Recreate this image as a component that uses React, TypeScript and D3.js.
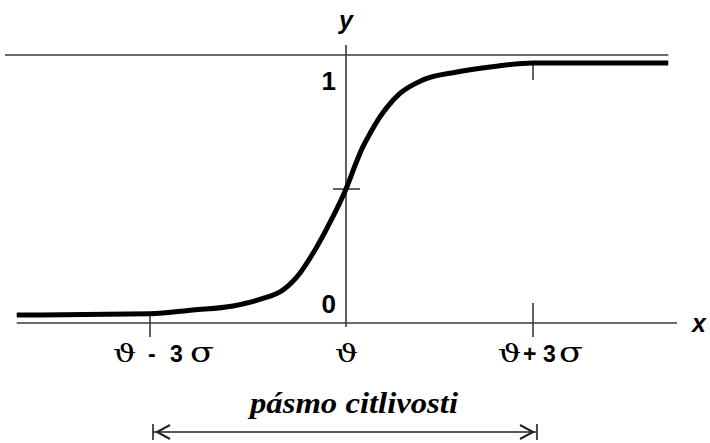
import { useMemo } from 'react'
import * as d3 from 'd3'

// sigmoid: x in sigma units around theta, y = probability
const curveX = [-5.04, -3.0, -2.34, -1.73, -1.32, -0.96, -0.7, -0.505, -0.29, 0, 0.18, 0.27, 0.385, 0.545, 0.66, 0.87, 1.235, 1.78, 2.31, 3.0, 5.17]
const curveY = [0, 0.005, 0.02, 0.036, 0.062, 0.1, 0.168, 0.245, 0.345, 0.5, 0.615, 0.667, 0.72, 0.786, 0.825, 0.88, 0.933, 0.964, 0.984, 1.0, 1.0]

const xTicks = [-3, 0, 3]
const xTickSymbols = [['ϑ', '-', '3', 'σ'], ['ϑ'], ['ϑ', '+', '3', 'σ']]
const yTicks = [0, 1]
const yTickLabels = ['0', '1']
const axisLevel = -0.032
const ceilingLevel = 1.032
const bandLabel = 'pásmo citlivosti'

const W = 710
const H = 443

// pixel offsets of the label pieces from their tick
const pieceOffsets = [[-37, -2, 20, 40], [-11], [-35, -10, 10, 26]]

export default function App() {
  const x = useMemo(() => d3.scaleLinear().domain([-3, 0, 3]).range([150, 346, 533]), [])
  const y = useMemo(() => d3.scaleLinear().domain([0, 1]).range([315, 63]), [])

  const pts = curveX.map((v, i) => [v, curveY[i]] as [number, number])
  const line = d3
    .line<[number, number]>()
    .x((d) => x(d[0]))
    .y((d) => y(d[1]))
    .curve(d3.curveMonotoneX)

  const axisY = y(axisLevel)
  const x0 = x(0)
  const stroke = '#3a3a3a'
  const sans = 'Liberation Sans, Arial, sans-serif'
  const serif = 'DejaVu Serif, Liberation Serif, serif'
  const times = 'Liberation Serif, Times New Roman, serif'

  const arrowL = x(-3) + 3
  const arrowR = x(3) + 4
  const arrowY = 432

  return (
    <svg width={W} height={H} style={{ position: 'absolute', left: 0, top: 0, background: '#fff' }}>
      {/* ceiling line */}
      <line x1={5} x2={x(5.17)} y1={y(ceilingLevel)} y2={y(ceilingLevel)} stroke={stroke} strokeWidth={1.6} />
      {/* x axis */}
      <line x1={x(-5.04)} x2={677} y1={axisY} y2={axisY} stroke={stroke} strokeWidth={1.6} />
      {/* y axis */}
      <line x1={x0} x2={x0} y1={y(1.071)} y2={axisY + 4} stroke={stroke} strokeWidth={1.6} />
      {/* mid tick */}
      <line x1={x0 - 13} x2={x0 + 14} y1={y(0.5)} y2={y(0.5)} stroke={stroke} strokeWidth={1.6} />
      {/* band ticks */}
      <line x1={x(-3)} x2={x(-3)} y1={y(0.012)} y2={axisY + 14} stroke={stroke} strokeWidth={1.6} />
      <line x1={x(3)} x2={x(3)} y1={axisY - 20} y2={axisY + 14} stroke={stroke} strokeWidth={1.6} />
      <line x1={x(3)} x2={x(3)} y1={y(1)} y2={y(1) + 17} stroke={stroke} strokeWidth={1.6} />

      <path d={line(pts) || ''} fill="none" stroke="#000" strokeWidth={5} strokeLinejoin="round" />

      {/* axis names */}
      <text x={x0} y={29} textAnchor="middle" fontFamily={sans} fontWeight="bold" fontStyle="italic" fontSize={25}>y</text>
      <text x={692} y={332} fontFamily={sans} fontWeight="bold" fontStyle="italic" fontSize={25}>x</text>

      {yTicks.map((t, i) => (
        <text key={t} x={x0 - 10} y={t === 1 ? y(1) + 27 : y(0) - 2} textAnchor="end" fontFamily={sans} fontWeight="bold" fontSize={26}>
          {yTickLabels[i]}
        </text>
      ))}

      {xTicks.map((t, i) =>
        xTickSymbols[i].map((s, j) => {
          const greek = s === 'ϑ' || s === 'σ'
          const px = x(t) + pieceOffsets[i][j]
          return (
            <text
              key={`${t}-${j}`}
              x={px}
              y={362}
              transform={greek ? `translate(${px},0) scale(1.3,1) translate(${-px},0)` : undefined}
              fontFamily={greek ? serif : sans}
              fontWeight={greek ? 'normal' : 'bold'}
              fontSize={s === 'σ' ? 27 : greek ? 25 : 23}
            >
              {s}
            </text>
          )
        })
      )}

      <text
        x={250}
        y={413}
        textLength={208}
        lengthAdjust="spacingAndGlyphs"
        fontFamily={times}
        fontWeight="bold"
        fontStyle="italic"
        fontSize={30}
      >
        {bandLabel}
      </text>

      {/* sensitivity band arrow */}
      <g stroke="#222" strokeWidth={1.6} fill="none">
        <line x1={arrowL} x2={arrowR} y1={arrowY} y2={arrowY} />
        <line x1={arrowL} x2={arrowL} y1={arrowY - 8} y2={arrowY + 8} />
        <line x1={arrowR} x2={arrowR} y1={arrowY - 8} y2={arrowY + 8} />
        <path d={`M${arrowL + 17},${arrowY - 7} L${arrowL + 4},${arrowY} L${arrowL + 17},${arrowY + 7}`} strokeWidth={2} />
        <path d={`M${arrowR - 17},${arrowY - 7} L${arrowR - 4},${arrowY} L${arrowR - 17},${arrowY + 7}`} strokeWidth={2} />
      </g>
    </svg>
  )
}
